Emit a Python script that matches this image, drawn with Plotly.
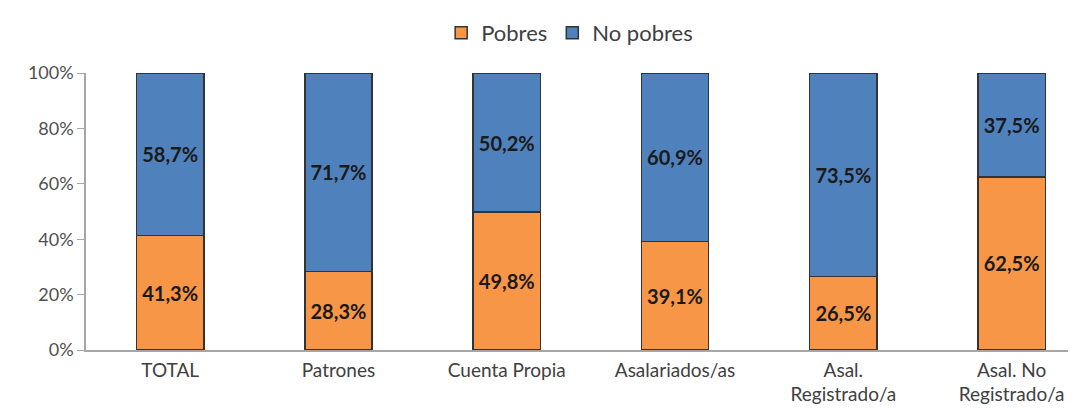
import plotly.graph_objects as go

categorias = ["TOTAL", "Patrones", "Cuenta Propia", "Asalariados/as",
              "Asal.<br>Registrado/a", "Asal. No<br>Registrado/a"]
pobres = [41.3, 28.3, 49.8, 39.1, 26.5, 62.5]
no_pobres = [58.7, 71.7, 50.2, 60.9, 73.5, 37.5]
y_ticks = [0, 20, 40, 60, 80, 100]


def fmt(v):
    return f"{v:.1f}".replace(".", ",") + "%"


label_font = dict(family="Lato", size=20, color="#1a1a1a", weight="bold")

fig = go.Figure()
fig.add_trace(go.Bar(
    x=categorias, y=pobres, name="Pobres",
    marker=dict(color="#F79646", line=dict(color="#333333", width=1.5)),
    text=[fmt(v) for v in pobres], textposition="inside", insidetextanchor="middle",
    textfont=label_font,
))
fig.add_trace(go.Bar(
    x=categorias, y=no_pobres, name="No pobres",
    marker=dict(color="#4F81BD", line=dict(color="#333333", width=1.5)),
    text=[fmt(v) for v in no_pobres], textposition="inside", insidetextanchor="middle",
    textfont=label_font,
))

fig.update_layout(
    barmode="stack", bargap=0.6,
    width=1076, height=411,
    margin=dict(l=78, r=0, t=65, b=69, autoexpand=False),
    plot_bgcolor="white", paper_bgcolor="white",
    font=dict(family="Lato", size=19, color="#404040"),
    uniformtext=dict(mode="show", minsize=10),
    legend=dict(orientation="h", xref="container", yref="container",
                x=0.522, xanchor="center", y=0.939, yanchor="middle",
                itemwidth=30, font=dict(size=22, color="#404040"),
                traceorder="normal"),
    showlegend=True,
)
fig.update_yaxes(range=[0, 100], tickvals=y_ticks, ticktext=[f"{v}%" for v in y_ticks],
                 showgrid=False, showline=True, linecolor="#a6a6a6", linewidth=1.5,
                 ticks="outside", tickcolor="#a6a6a6", ticklen=7,
                 tickfont=dict(size=18, color="#505050"))
fig.update_xaxes(range=[-0.5, 5.43], showgrid=False, showline=True,
                 linecolor="#a6a6a6", linewidth=1.5, ticklabelstandoff=2,
                 tickfont=dict(size=19, color="#404040"))

fig.write_html("out.html")
